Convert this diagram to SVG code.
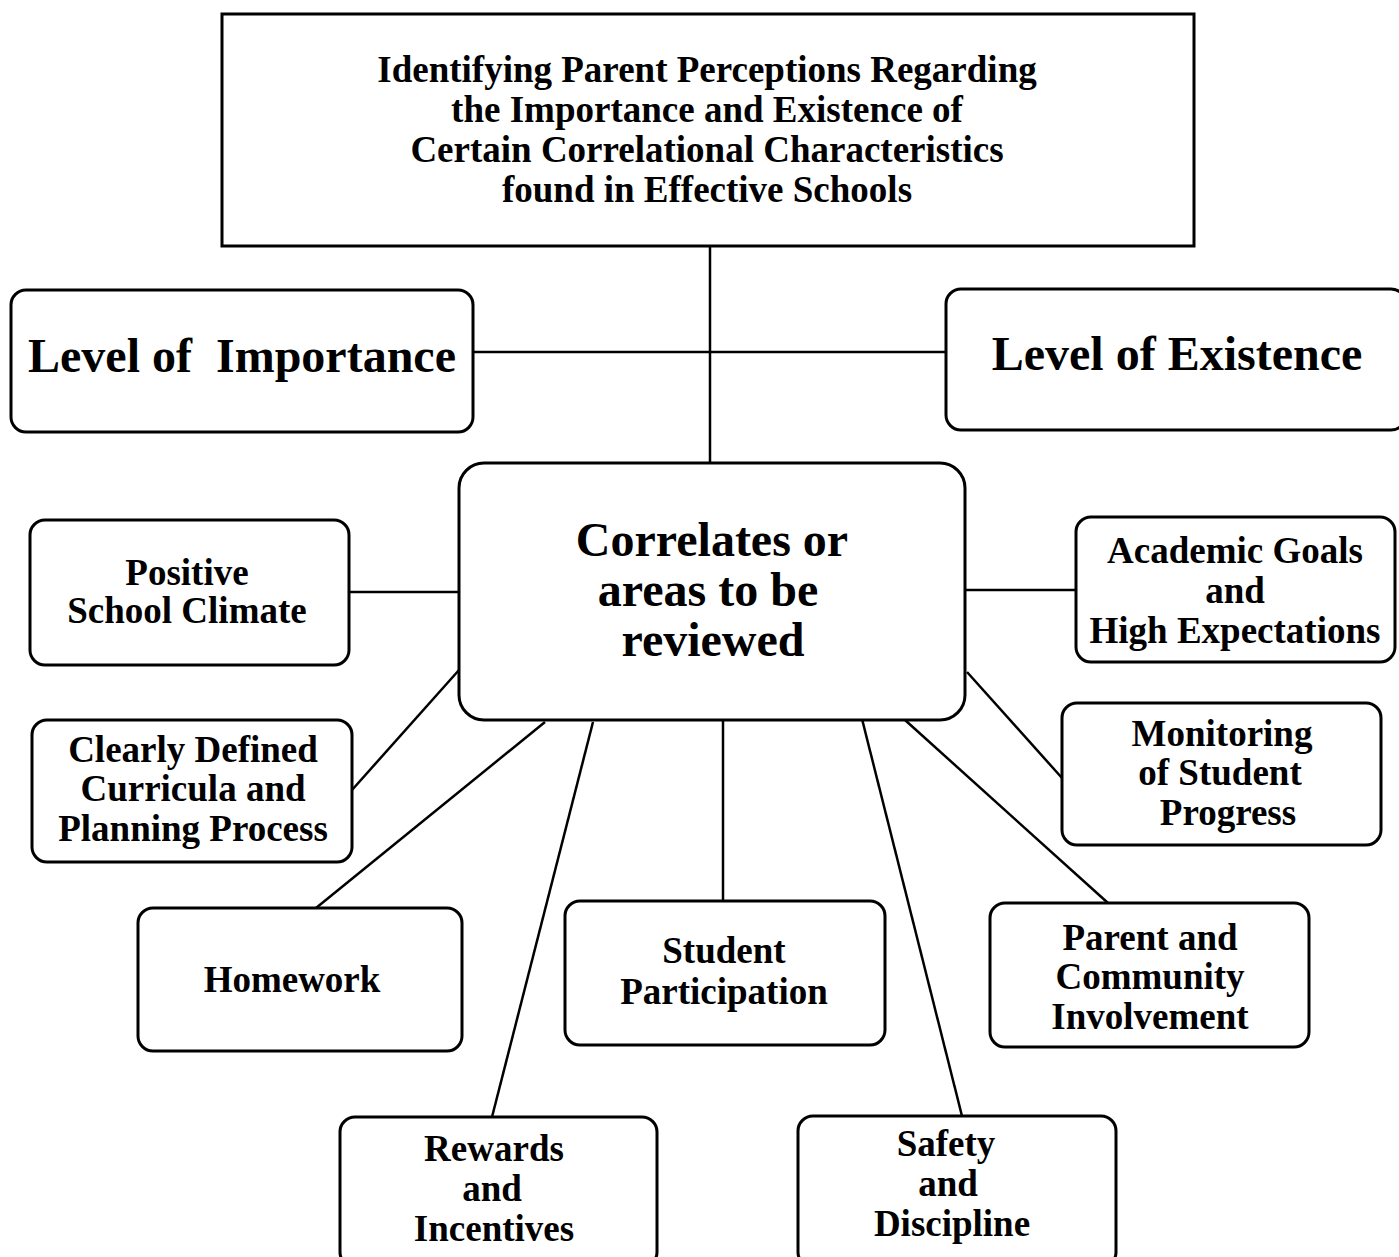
<svg xmlns="http://www.w3.org/2000/svg" width="1399" height="1257" viewBox="0 0 1399 1257">
<style>
.box{fill:#fff;stroke:#000;stroke-width:3}
.ln{stroke:#000;stroke-width:2.5;fill:none}
text{font-family:"Liberation Serif","Times New Roman",serif;font-weight:bold;fill:#000;text-anchor:middle}
.s{font-size:37px}
.b{font-size:48px}
</style>
<rect width="1399" height="1257" fill="#fff"/>
<g id="connectors">
<line class="ln" x1="710" y1="246" x2="710" y2="463"/>
<line class="ln" x1="473" y1="352" x2="946" y2="352"/>
<line class="ln" x1="349" y1="592" x2="459" y2="592"/>
<line class="ln" x1="965" y1="590" x2="1076" y2="590"/>
<line class="ln" x1="352" y1="790" x2="459" y2="670"/>
<line class="ln" x1="967" y1="672" x2="1062" y2="778"/>
<line class="ln" x1="316" y1="908" x2="545" y2="722"/>
<line class="ln" x1="723" y1="720" x2="723" y2="902"/>
<line class="ln" x1="905" y1="720" x2="1108" y2="903"/>
<line class="ln" x1="593" y1="722" x2="492" y2="1117"/>
<line class="ln" x1="861" y1="715" x2="962" y2="1116"/>
</g>
<g id="title">
<rect class="box" x="222" y="14" width="972" height="232"/>
<text class="s" x="707" y="82">Identifying Parent Perceptions Regarding</text>
<text class="s" x="707" y="122">the Importance and Existence of</text>
<text class="s" x="707" y="162">Certain Correlational Characteristics</text>
<text class="s" x="707" y="202">found in Effective Schools</text>
</g>
<g id="importance">
<rect class="box" x="11" y="290" width="462" height="142" rx="15"/>
<text class="b" x="242" y="372" style="white-space:pre">Level of  Importance</text>
</g>
<g id="existence">
<rect class="box" x="946" y="289" width="460" height="141" rx="15"/>
<text class="b" x="1177" y="370">Level of Existence</text>
</g>
<g id="correlates">
<rect class="box" x="459" y="463" width="506" height="257" rx="25"/>
<text class="b" x="712" y="556">Correlates or</text>
<text class="b" x="708" y="606">areas to be</text>
<text class="b" x="713" y="656">reviewed</text>
</g>
<g id="climate">
<rect class="box" x="30" y="520" width="319" height="145" rx="15"/>
<text class="s" x="187" y="585">Positive</text>
<text class="s" x="187" y="623">School Climate</text>
</g>
<g id="academic">
<rect class="box" x="1076" y="517" width="319" height="145" rx="15"/>
<text class="s" x="1235" y="563">Academic Goals</text>
<text class="s" x="1235" y="603">and</text>
<text class="s" x="1235" y="643">High Expectations</text>
</g>
<g id="curricula">
<rect class="box" x="32" y="720" width="320" height="142" rx="15"/>
<text class="s" x="193" y="762">Clearly Defined</text>
<text class="s" x="193" y="801">Curricula and</text>
<text class="s" x="193" y="841">Planning Process</text>
</g>
<g id="monitoring">
<rect class="box" x="1062" y="703" width="319" height="142" rx="15"/>
<text class="s" x="1222" y="746">Monitoring</text>
<text class="s" x="1220" y="785">of Student</text>
<text class="s" x="1228" y="825">Progress</text>
</g>
<g id="homework">
<rect class="box" x="138" y="908" width="324" height="143" rx="15"/>
<text class="s" x="292" y="992">Homework</text>
</g>
<g id="participation">
<rect class="box" x="565" y="901" width="320" height="144" rx="15"/>
<text class="s" x="724" y="963">Student</text>
<text class="s" x="724" y="1004">Participation</text>
</g>
<g id="community">
<rect class="box" x="990" y="903" width="319" height="144" rx="15"/>
<text class="s" x="1150" y="950">Parent and</text>
<text class="s" x="1150" y="989">Community</text>
<text class="s" x="1150" y="1029">Involvement</text>
</g>
<g id="rewards">
<rect class="box" x="340" y="1117" width="317" height="150" rx="15"/>
<text class="s" x="494" y="1161">Rewards</text>
<text class="s" x="492" y="1201">and</text>
<text class="s" x="494" y="1241">Incentives</text>
</g>
<g id="safety">
<rect class="box" x="798" y="1116" width="318" height="151" rx="15"/>
<text class="s" x="946" y="1156">Safety</text>
<text class="s" x="948" y="1196">and</text>
<text class="s" x="952" y="1236">Discipline</text>
</g>
</svg>
